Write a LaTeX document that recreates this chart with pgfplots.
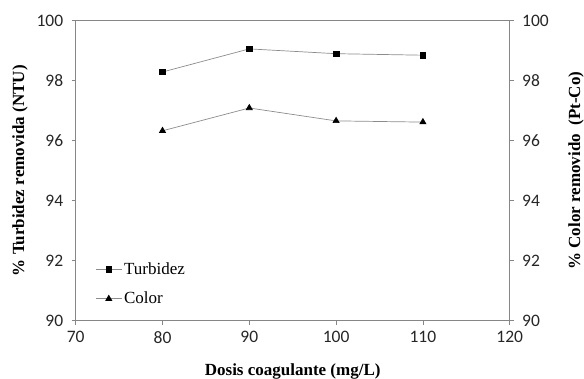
\documentclass[border=0pt]{standalone}
\usepackage{fontspec}
\setmainfont{Liberation Serif}
\newfontfamily\carlito{Carlito}
\usepackage{pgfplots}
\pgfplotsset{compat=1.18}
\definecolor{axgray}{HTML}{868686}
\definecolor{lngray}{HTML}{8C8C8C}
\begin{document}
\begin{tikzpicture}
\useasboundingbox (-75.7pt,-58.3pt) rectangle (508.3pt,320.7pt);
\pgfplotsset{
  common/.style={
    width=434pt, height=300pt, scale only axis,
    xmin=70, xmax=120, ymin=90, ymax=100,
    xtick={70,80,...,120}, ytick={90,92,...,100},
    tick align=outside, major tick length=4pt,
    tick style={axgray, line width=0.6pt},
    axis line style={axgray, line width=0.6pt},
    tick label style={font=\fontsize{17.5}{19}\selectfont\carlito, text=black!85},
    /pgf/number format/assume math mode=true,
    label style={font=\fontsize{17}{19}\selectfont\bfseries},
  },
}
\begin{axis}[common,
  xtick pos=lower, ytick pos=left,
  xlabel={Dosis coagulante (mg/L)},
  ylabel={\% Turbidez removida (NTU)},
  xlabel style={at={(axis description cs:0.5,-0.1683)}, anchor=center},
  ylabel style={at={(axis description cs:-0.1283,0.5)}, anchor=center},
  xticklabel style={yshift=-3pt},
  yticklabel style={xshift=-5pt},
  legend style={draw=none, fill=none, at={(axis description cs:0.045,0.2)}, anchor=north west,
    font=\fontsize{17}{19}\selectfont, row sep=12pt, inner sep=0pt},
  legend cell align=left,
  legend image code/.code={\draw[mark repeat=2,mark phase=2] plot coordinates {(0pt,0pt) (13pt,0pt) (26pt,0pt)};},
]
\addplot[lngray, line width=0.7pt, mark=square*, mark size=2.8pt, mark options={black, fill=black}]
  coordinates {(80,98.29) (90,99.06) (100,98.90) (110,98.85)};
\addlegendentry{Turbidez}
\addlegendimage{lngray, line width=0.7pt, mark=triangle*, mark size=3.5pt, mark options={black, fill=black}}
\addlegendentry{Color}
\end{axis}
\begin{axis}[common,
  axis x line=none, axis y line*=right,
  ytick pos=right, yticklabel pos=right,
  yticklabel style={xshift=5pt},
  ylabel={\% Color removido~~(Pt-Co)},
  ylabel style={at={(axis description cs:1.1528,0.5)}, anchor=center},
]
\addplot[lngray, line width=0.7pt, mark=triangle*, mark size=3.5pt, mark options={black, fill=black}]
  coordinates {(80,96.33) (90,97.09) (100,96.66) (110,96.62)};
\end{axis}
\end{tikzpicture}
\end{document}
